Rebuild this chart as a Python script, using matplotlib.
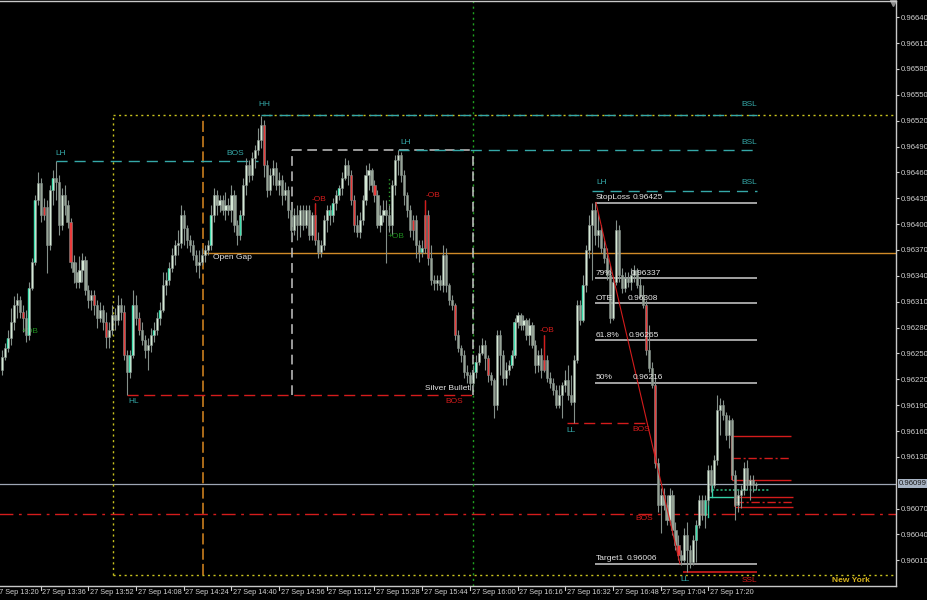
import numpy as np
import matplotlib
matplotlib.use('Agg')
import matplotlib.pyplot as plt
import matplotlib.transforms as mtransforms
from matplotlib import font_manager

# M1 candles 27 Sep 13:23 .. 17:36, prices in points (1e-5)
first_bar = '13:23'
opens = [
    96231, 96246, 96256, 96268, 96287, 96306, 96312, 96298, 96291, 96271,
    96326, 96356, 96428, 96448, 96411, 96420, 96376, 96440, 96454, 96449,
    96399, 96434, 96422, 96402, 96356, 96344, 96333, 96347, 96358, 96324,
    96312, 96318, 96306, 96291, 96300, 96287, 96269, 96277, 96295, 96289,
    96306, 96298, 96248, 96228, 96248, 96306, 96291, 96277, 96266, 96254,
    96260, 96271, 96277, 96291, 96300, 96329, 96335, 96349, 96364, 96376,
    96378, 96411, 96396, 96382, 96376, 96364, 96353, 96356, 96364, 96370,
    96376, 96411, 96434, 96422, 96428, 96416, 96422, 96416, 96434, 96399,
    96387, 96411, 96445, 96469, 96457, 96477, 96486, 96498, 96515, 96469,
    96440, 96457, 96465, 96445, 96451, 96434, 96440, 96416, 96393, 96411,
    96399, 96416, 96399, 96416, 96387, 96411, 96382, 96368, 96376, 96405,
    96416, 96411, 96425, 96434, 96442, 96454, 96469, 96457, 96428, 96399,
    96391, 96405, 96428, 96457, 96463, 96445, 96434, 96399, 96411, 96416,
    96411, 96399, 96445, 96474, 96480, 96457, 96434, 96416, 96393, 96405,
    96376, 96368, 96372, 96411, 96361, 96335, 96332, 96335, 96329, 96364,
    96329, 96312, 96306, 96271, 96256, 96248, 96228, 96225, 96216, 96228,
    96240, 96251, 96260, 96245, 96225, 96219, 96190, 96271, 96248, 96222,
    96231, 96237, 96248, 96287, 96295, 96283, 96289, 96271, 96283, 96260,
    96237, 96248, 96231, 96242, 96222, 96216, 96208, 96190, 96202, 96213,
    96219, 96202, 96194, 96242, 96306, 96289, 96329, 96370, 96399, 96416,
    96387, 96393, 96372, 96361, 96341, 96291, 96333, 96393, 96341, 96326,
    96338, 96333, 96341, 96347, 96329, 96318, 96306, 96254, 96233, 96213,
    96123, 96074, 96086, 96074, 96057, 96086, 96045, 96028, 96016, 96010,
    96039, 96022, 96008, 96034, 96051, 96080, 96063, 96080, 96115, 96097,
    96126, 96184, 96190, 96179, 96155, 96173, 96109, 96074, 96086, 96092,
    96117, 96097, 96103, 96097,
]
highs = [
    96254, 96262, 96277, 96303, 96317, 96320, 96317, 96306, 96300, 96333,
    96361, 96434, 96460, 96454, 96430, 96428, 96445, 96463, 96473, 96457,
    96442, 96445, 96428, 96407, 96364, 96356, 96363, 96367, 96363, 96329,
    96324, 96324, 96312, 96310, 96306, 96298, 96287, 96306, 96303, 96318,
    96314, 96306, 96254, 96254, 96324, 96318, 96298, 96287, 96271, 96268,
    96280, 96287, 96298, 96310, 96344, 96344, 96356, 96372, 96382, 96393,
    96422, 96416, 96399, 96387, 96382, 96370, 96370, 96372, 96376, 96382,
    96422, 96442, 96440, 96434, 96434, 96437, 96430, 96445, 96440, 96405,
    96416, 96454, 96477, 96474, 96484, 96492, 96512, 96525, 96521, 96474,
    96465, 96474, 96472, 96460, 96457, 96449, 96444, 96422, 96419, 96422,
    96422, 96422, 96422, 96422, 96414, 96425, 96391, 96382, 96411, 96422,
    96422, 96430, 96440, 96445, 96460, 96477, 96474, 96463, 96434, 96411,
    96414, 96434, 96469, 96471, 96465, 96451, 96440, 96422, 96428, 96428,
    96422, 96451, 96480, 96486, 96484, 96463, 96437, 96422, 96411, 96411,
    96382, 96382, 96428, 96416, 96376, 96341, 96341, 96341, 96376, 96372,
    96332, 96318, 96309, 96277, 96260, 96254, 96237, 96228, 96237, 96248,
    96260, 96268, 96266, 96248, 96228, 96222, 96277, 96277, 96254, 96240,
    96242, 96254, 96291, 96298, 96297, 96295, 96291, 96291, 96287, 96266,
    96254, 96256, 96271, 96248, 96228, 96222, 96213, 96213, 96217, 96231,
    96237, 96225, 96248, 96312, 96312, 96341, 96376, 96411, 96425, 96425,
    96413, 96399, 96382, 96372, 96353, 96338, 96405, 96399, 96349, 96344,
    96344, 96349, 96353, 96349, 96338, 96329, 96312, 96283, 96240, 96222,
    96129, 96094, 96094, 96086, 96094, 96092, 96054, 96039, 96022, 96048,
    96054, 96028, 96039, 96057, 96086, 96086, 96086, 96121, 96121, 96132,
    96202, 96198, 96196, 96182, 96179, 96175, 96115, 96092, 96097, 96124,
    96126, 96109, 96109, 96101,
]
lows = [
    96225, 96242, 96252, 96260, 96277, 96291, 96291, 96275, 96263, 96266,
    96324, 96353, 96422, 96402, 96405, 96343, 96370, 96422, 96428, 96387,
    96393, 96411, 96396, 96349, 96332, 96326, 96326, 96333, 96318, 96303,
    96300, 96295, 96280, 96287, 96277, 96256, 96256, 96271, 96277, 96283,
    96289, 96242, 96202, 96222, 96245, 96283, 96271, 96260, 96245, 96231,
    96252, 96263, 96271, 96283, 96298, 96318, 96329, 96344, 96353, 96364,
    96372, 96376, 96372, 96368, 96358, 96344, 96338, 96353, 96356, 96364,
    96370, 96402, 96411, 96414, 96411, 96405, 96411, 96402, 96391, 96376,
    96382, 96405, 96434, 96449, 96451, 96465, 96480, 96488, 96455, 96432,
    96434, 96445, 96440, 96434, 96422, 96428, 96407, 96382, 96387, 96382,
    96385, 96393, 96396, 96382, 96382, 96376, 96361, 96362, 96370, 96391,
    96399, 96402, 96416, 96428, 96434, 96451, 96445, 96422, 96391, 96385,
    96384, 96399, 96422, 96440, 96437, 96426, 96396, 96391, 96402, 96355,
    96391, 96387, 96434, 96457, 96449, 96422, 96408, 96385, 96382, 96361,
    96356, 96362, 96366, 96353, 96329, 96324, 96324, 96324, 96321, 96321,
    96306, 96300, 96266, 96252, 96240, 96222, 96216, 96208, 96210, 96222,
    96237, 96248, 96231, 96217, 96213, 96175, 96184, 96225, 96213, 96213,
    96225, 96233, 96245, 96280, 96277, 96277, 96266, 96260, 96256, 96227,
    96228, 96222, 96228, 96217, 96210, 96202, 96187, 96187, 96175, 96205,
    96196, 96190, 96169, 96239, 96283, 96287, 96321, 96361, 96335, 96376,
    96373, 96366, 96355, 96335, 96285, 96289, 96329, 96333, 96320, 96321,
    96327, 96324, 96333, 96326, 96314, 96303, 96248, 96228, 96210, 96117,
    96066, 96042, 96068, 96051, 96051, 96039, 96022, 96010, 96005, 96008,
    95996, 96001, 96005, 96008, 96048, 96057, 96048, 96074, 96089, 96094,
    96121, 96155, 96173, 96150, 96140, 96103, 96057, 96066, 96071, 96086,
    96092, 96080, 96089, 96092,
]
closes = [
    96246, 96256, 96268, 96287, 96306, 96312, 96298, 96291, 96271, 96326,
    96356, 96428, 96448, 96411, 96420, 96376, 96440, 96454, 96449, 96399,
    96434, 96422, 96402, 96356, 96344, 96333, 96347, 96358, 96324, 96312,
    96318, 96306, 96291, 96300, 96287, 96269, 96277, 96295, 96289, 96306,
    96298, 96248, 96228, 96248, 96306, 96291, 96277, 96266, 96254, 96260,
    96271, 96277, 96291, 96300, 96329, 96335, 96349, 96364, 96376, 96378,
    96411, 96396, 96382, 96376, 96364, 96353, 96356, 96364, 96370, 96376,
    96411, 96434, 96422, 96428, 96416, 96422, 96416, 96434, 96399, 96387,
    96411, 96445, 96469, 96457, 96477, 96486, 96498, 96515, 96469, 96440,
    96457, 96465, 96445, 96451, 96434, 96440, 96416, 96393, 96411, 96399,
    96416, 96399, 96416, 96387, 96411, 96382, 96368, 96376, 96405, 96416,
    96411, 96425, 96434, 96442, 96454, 96469, 96457, 96428, 96399, 96391,
    96405, 96428, 96457, 96463, 96445, 96434, 96399, 96411, 96416, 96411,
    96399, 96445, 96474, 96480, 96457, 96434, 96416, 96393, 96405, 96376,
    96368, 96372, 96411, 96361, 96335, 96332, 96335, 96329, 96364, 96329,
    96312, 96306, 96271, 96256, 96248, 96228, 96225, 96216, 96228, 96240,
    96251, 96260, 96245, 96225, 96219, 96190, 96271, 96248, 96222, 96231,
    96237, 96248, 96287, 96295, 96283, 96289, 96271, 96283, 96260, 96237,
    96248, 96231, 96242, 96222, 96216, 96208, 96190, 96202, 96213, 96219,
    96202, 96194, 96242, 96306, 96289, 96329, 96370, 96399, 96416, 96387,
    96393, 96372, 96361, 96341, 96291, 96333, 96393, 96341, 96326, 96338,
    96333, 96341, 96347, 96329, 96318, 96306, 96254, 96233, 96213, 96123,
    96074, 96086, 96074, 96057, 96086, 96045, 96028, 96016, 96010, 96039,
    96022, 96008, 96034, 96051, 96080, 96063, 96080, 96115, 96097, 96126,
    96184, 96190, 96179, 96155, 96173, 96109, 96074, 96086, 96092, 96117,
    96097, 96103, 96097, 96099,
]

# candles marked by the imbalance indicator
teal_bars = [2, 9, 11, 17, 43, 44, 51, 53, 56, 70, 80, 110, 111, 113, 141,
             159, 171, 172, 195, 233, 236]
red_bars = [7, 14, 23, 31, 35, 41, 46, 88, 105, 117, 118, 125, 138, 142, 143,
            152, 163, 182, 216, 219, 227]
ob_bars = [105, 142, 182]

# fib of the last swing
fib_names = ['StopLoss', '79%', 'OTE', '61.8%', '50%', 'Target1']
fib_levels = [0.96425, 0.96337, 0.96308, 0.96265, 0.96216, 0.96006]

xtick_labels = ['27 Sep 13:20', '27 Sep 13:36', '27 Sep 13:52', '27 Sep 14:08',
                '27 Sep 14:24', '27 Sep 14:40', '27 Sep 14:56', '27 Sep 15:12',
                '27 Sep 15:28', '27 Sep 15:44', '27 Sep 16:00', '27 Sep 16:16',
                '27 Sep 16:32', '27 Sep 16:48', '27 Sep 17:04', '27 Sep 17:20']
ytick_values = [0.96640, 0.96610, 0.96580, 0.96550, 0.96520, 0.96490, 0.96460,
                0.96430, 0.96400, 0.96370, 0.96340, 0.96310, 0.96280, 0.96250,
                0.96220, 0.96190, 0.96160, 0.96130, 0.96070, 0.96040, 0.96010]
bid = 0.96099

# levels
session_high, session_low = 0.96527, 0.95993
open_gap = 0.96367
sb_top, sb_bottom = 0.96486, 0.96202
old_bos = 0.96064
lh3_level = 0.96438

names = {f.name for f in font_manager.fontManager.ttflist}
if 'Liberation Sans Narrow' in names:
    AXFONT, YSIZE, XSIZE = 'Liberation Sans Narrow', 6.5, 6.5
else:
    AXFONT, YSIZE, XSIZE = 'Liberation Sans', 5.6, 5.3

plt.rcParams['font.family'] = ['Liberation Sans', 'DejaVu Sans']
plt.rcParams['lines.scale_dashes'] = False
FS = 6.0

o = np.array(opens) / 1e5
h = np.array(highs) / 1e5
l = np.array(lows) / 1e5
c = np.array(closes) / 1e5
x = np.arange(len(c))


def minute(label):
    hh, mm = label[-5:].split(':')
    h0, m0 = first_bar.split(':')
    return int(hh) * 60 + int(mm) - (int(h0) * 60 + int(m0))


fig = plt.figure(figsize=(9.27, 6.0), dpi=100, facecolor='black')
ax = fig.add_axes([0, 14.5 / 600, 896 / 927, 584.5 / 600], facecolor='black')

WICK = '#84908a'
BULL = '#d6e9d6'
BEAR = '#97a497'
TEAL = '#35a8a8'
RED = '#d41c1c'
WHITE = '#e6e6e6'
AXCOL = '#d0d0d0'

# candles
ax.vlines(x, l, h, color=WICK, lw=0.8, zorder=3)
body_lo = np.minimum(o, c)
body_h = np.maximum(np.abs(c - o), 0.000012)
cols = [BULL if c[i] >= o[i] else BEAR for i in x]
for i in red_bars:
    cols[i] = '#ec3c3c'
ax.bar(x, body_h, bottom=body_lo, width=0.72, color=cols, edgecolor=WICK,
       linewidth=0.4, zorder=4)
for i in teal_bars:
    ax.vlines(i - 0.25, body_lo[i], body_lo[i] + body_h[i], color='#3ee0b0',
              lw=1.0, zorder=5)
for i in ob_bars:
    ax.vlines(i, max(o[i], c[i]), h[i], color=RED, lw=1.0, zorder=5)

# session box (New York)
ax.hlines([session_high, session_low], 37.2, 300, color='#c8c21e', lw=1,
          linestyles=(0, (1.5, 2.5)), zorder=2)
ax.vlines(37.2, session_low, session_high, color='#c8c21e', lw=1,
          linestyles=(0, (1.5, 2.5)), zorder=2)
ax.text(278.5, 0.95987, 'New York', color='#d8b41e', fontsize=FS,
        fontweight='bold', va='center', ha='left')

# open gap
ax.vlines(67.4, session_low, session_high, color='#c97d1e', lw=1.2,
          linestyles=(0, (8, 3)), zorder=2)
ax.hlines(open_gap, 67.4, 300, color='#d08a28', lw=1, zorder=2)
ax.text(70.8, 0.96361, 'Open Gap', color=WHITE, fontsize=FS, va='center')

# silver bullet window
ax.vlines(158.1, 0.959808, 0.966588, color='#1fa01f', lw=1,
          linestyles=(0, (1.5, 2.5)), zorder=2)
ax.vlines([97.3, 158.1], sb_bottom, sb_top, color='#c4c4c4', lw=1.1,
          linestyles=(0, (7, 4)), zorder=2)
ax.hlines(sb_top, 97.3, 158.1, color='#c4c4c4', lw=1.1,
          linestyles=(0, (7, 4)), zorder=2)
ax.text(157.0, 0.96209, 'Silver Bullet', color=WHITE, fontsize=FS,
        ha='right', va='center', zorder=6)

# structure: highs / lows
ax.hlines(h[18], 18, 86, color=TEAL, lw=1, linestyles=(0, (8, 5)), zorder=2)
ax.text(17.8, 0.96478, 'LH', color=TEAL, fontsize=FS, va='bottom')
ax.text(81.2, 0.96478, 'BOS', color=TEAL, fontsize=FS, ha='right', va='bottom')
ax.hlines(session_high, 87, 253.4, color=TEAL, lw=1, linestyles=(0, (8, 5)),
          zorder=2)
ax.text(87.9, 0.96535, 'HH', color=TEAL, fontsize=FS, ha='center', va='bottom')
ax.hlines(h[133], 133, 253.4, color=TEAL, lw=1, linestyles=(0, (8, 5)), zorder=2)
ax.text(133.6, 0.96491, 'LH', color=TEAL, fontsize=FS, va='bottom')
ax.hlines(lh3_level, 198, 253.4, color=TEAL, lw=1, linestyles=(0, (8, 5)),
          zorder=2)
ax.text(199.3, 0.96444, 'LH', color=TEAL, fontsize=FS, va='bottom')
for lvl in [0.96535, 0.96491, 0.96444]:
    ax.text(253.4, lvl, 'BSL', color=TEAL, fontsize=FS, ha='right', va='bottom')

ax.hlines(l[42], 42, 158.1, color=RED, lw=1, linestyles=(0, (8, 4)), zorder=2)
ax.text(42.3, 0.96194, 'HL', color=TEAL, fontsize=FS, va='center')
ax.text(148.7, 0.96194, 'BOS', color=RED, fontsize=FS, va='center')

ax.hlines(l[192], 189.6, 216.4, color=RED, lw=1, linestyles=(0, (8, 4)), zorder=2)
ax.text(189.3, 0.96161, 'LL', color=TEAL, fontsize=FS, va='center')
ax.text(211.4, 0.96162, 'BOS', color=RED, fontsize=FS, va='center')

ax.hlines(old_bos, -1, 300, color=RED, lw=1, linestyles=(0, (10, 4, 2, 4)),
          zorder=2)
ax.text(212.4, 0.96058, 'BOS', color=RED, fontsize=FS, va='center')

ax.hlines(l[230], 228.5, 253.4, color=RED, lw=1.2, zorder=2)
ax.text(227.5, 0.95988, 'LL', color=TEAL, fontsize=FS, va='center')
ax.text(253.4, 0.95987, 'SSL', color=RED, fontsize=FS, ha='right', va='center')

# order blocks
ax.text(104.0, 0.96428, '-OB', color=RED, fontsize=FS, va='center')
ax.text(142.3, 0.96433, '-OB', color=RED, fontsize=FS, va='center')
ax.text(180.5, 0.96277, '-OB', color=RED, fontsize=FS, va='center')
ax.text(6.7, 0.96276, '+OB', color='#1e8c1e', fontsize=FS, va='center')
ax.text(129.5, 0.96386, '+OB', color='#1e8c1e', fontsize=FS, va='center')
ax.vlines(129.9, 0.96393, 0.96455, color='#2a9a2a', lw=1,
          linestyles=(0, (1, 2)), zorder=2)

# fib
ax.plot([199.3, 227.5], [fib_levels[0], fib_levels[-1]], color=RED, lw=0.8,
        zorder=6)
fib_val_x = [211.5, 211.0, 210.0, 210.3, 211.5, 209.5]
for name, lvl, vx in zip(fib_names, fib_levels, fib_val_x):
    ax.hlines(lvl, 199, 253.4, color='#bdbdbd', lw=1.2, zorder=2)
    ax.text(199.3, lvl + 0.00002, name, color=WHITE, fontsize=FS, va='bottom',
            zorder=7)
    ax.text(vx, lvl + 0.00002, f'{lvl:.5f}', color=WHITE, fontsize=FS,
            va='bottom', zorder=7)

# right side imbalance levels
ax.hlines([0.96154, 0.96103], 245.0, 264.8, color=RED, lw=1, zorder=2)
ax.hlines(0.96129, 245.0, 264.8, color=RED, lw=1,
          linestyles=(0, (6, 2, 1.5, 2)), zorder=2)
ax.vlines(245.0, 0.96103, 0.96154, color=RED, lw=1.5, zorder=2)
ax.hlines([0.96083, 0.96072], 246.0, 265.4, color=RED, lw=1, zorder=2)
ax.hlines(0.96078, 246.0, 265.4, color=RED, lw=1,
          linestyles=(0, (6, 2, 1.5, 2)), zorder=2)
ax.vlines(246.0, 0.96072, 0.96083, color=RED, lw=1.2, zorder=2)
ax.hlines(0.96092, 236.9, 257.7, color='#2ab07a', lw=1.2,
          linestyles=(0, (1.5, 1.5)), zorder=2)
ax.plot([236.9, 236.9, 245.3], [0.96060, 0.96083, 0.96083], color='#36d0a8',
        lw=1, zorder=2)
ax.plot([238.3, 238.3], [0.96083, 0.96099], color='#36d0a8', lw=1, zorder=2)

# bid line
ax.axhline(bid, color='#9ea6b4', lw=0.9, zorder=1)
ytr = mtransforms.blended_transform_factory(ax.transAxes, ax.transData)
ax.text(1.0035, bid, f'{bid:.5f}', transform=ytr, color='#1a1a1a',
        fontsize=YSIZE, family=AXFONT, va='center', ha='left', clip_on=False,
        bbox=dict(boxstyle='square,pad=0.12', fc='#a8b4c4', ec='none'))
ax.plot([0.997], [0.996], marker='v', color='#8c8c8c', ms=5,
        transform=ax.transAxes, clip_on=False)

# time axis drawn by hand so the partly hidden first label shows
xtr = mtransforms.blended_transform_factory(ax.transData, ax.transAxes)
for s in xtick_labels:
    m = minute(s)
    ax.plot([m, m], [0, -0.007], transform=xtr, color=AXCOL, lw=0.8,
            clip_on=False)
    ax.annotate(s, xy=(m, 0), xycoords=xtr, xytext=(1.2, -2.2),
                textcoords='offset points', ha='left', va='top', color=AXCOL,
                fontsize=XSIZE, family=AXFONT, annotation_clip=False)
ax.set_xticks([])

ax.yaxis.tick_right()
ax.set_yticks(ytick_values)
ax.set_yticklabels([f'{v:.5f}' for v in ytick_values], family=AXFONT)
ax.tick_params(axis='y', colors=AXCOL, labelsize=YSIZE, length=2.5,
               width=0.8, pad=0.8)
ax.set_xlim(-0.67, 300.0)
ax.set_ylim(0.959808, 0.966588)
for s in ['top', 'right', 'bottom']:
    ax.spines[s].set_color('#c8c8c8')
    ax.spines[s].set_linewidth(1)
ax.spines['left'].set_visible(False)

fig.savefig('out.png', dpi=100, facecolor='black')
